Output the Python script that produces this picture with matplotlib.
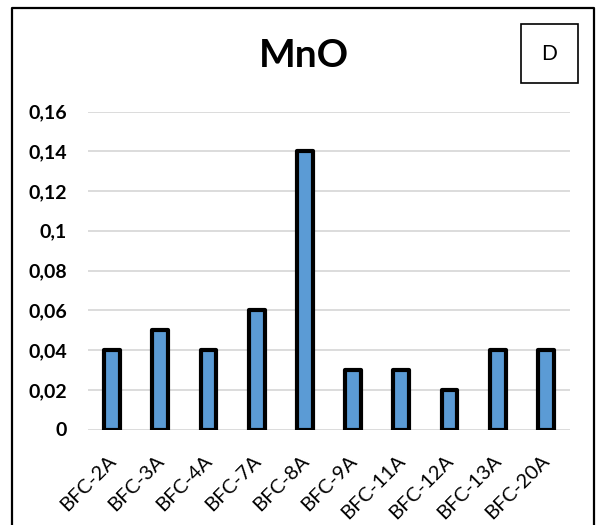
import matplotlib
matplotlib.use("Agg")
import matplotlib.pyplot as plt
from matplotlib.patches import Rectangle
from matplotlib.lines import Line2D
from matplotlib.transforms import ScaledTranslation

categories = ["BFC-2A", "BFC-3A", "BFC-4A", "BFC-7A", "BFC-8A",
              "BFC-9A", "BFC-11A", "BFC-12A", "BFC-13A", "BFC-20A"]
mno = [0.04, 0.05, 0.04, 0.06, 0.14, 0.03, 0.03, 0.02, 0.04, 0.04]
yticks = [0, 0.02, 0.04, 0.06, 0.08, 0.1, 0.12, 0.14, 0.16]
ytick_labels = ["0", "0,02", "0,04", "0,06", "0,08", "0,1", "0,12", "0,14", "0,16"]
title = "MnO"
panel_label = "D"

plt.rcParams['font.family'] = ['Lato', 'DejaVu Sans']

W, H = 600, 525
fig = plt.figure(figsize=(6, 5.25), dpi=100)
fig.patch.set_facecolor('white')

x0, x1 = 88, 570
ytop, ybot = 111.5, 429.5
ax = fig.add_axes([x0 / W, 1 - ybot / H, (x1 - x0) / W, (ybot - ytop) / H])

xs = list(range(len(categories)))
bars = ax.bar(xs, mno, width=0.33, color='#5B9BD5', edgecolor='black',
              linewidth=3.0, zorder=3)
for b in bars:
    b.set_joinstyle('round')

ax.set_xlim(-0.5, len(categories) - 0.5)
ax.set_ylim(0, 0.16)
ax.set_yticks(yticks)
ax.set_yticklabels(ytick_labels, fontweight='bold', fontsize=14)
ax.yaxis.grid(True, color='#D9D9D9', linewidth=1.3, zorder=0)
ax.set_axisbelow(True)
for s in ax.spines.values():
    s.set_visible(False)
ax.tick_params(axis='y', length=0, pad=15)
ax.tick_params(axis='x', length=0, pad=16)
ax.set_xticks(xs)
ax.set_xticklabels(categories, rotation=45, ha='right', va='top',
                   rotation_mode='anchor', fontsize=14.5)
off = ScaledTranslation(-5 / 100, 0, fig.dpi_scale_trans)
for lab in ax.get_xticklabels():
    lab.set_transform(lab.get_transform() + off)

# Title
fig.text(304 / W, 1 - 55.5 / H, title, ha='center', va='center',
         fontsize=28, fontweight='bold')

# Panel label box
fig.add_artist(Rectangle((521 / W, 1 - 83 / H), 57 / W, 59 / H,
                         transform=fig.transFigure, fill=False,
                         edgecolor='black', linewidth=1.2))
fig.text(549.5 / W, 1 - 53.5 / H, panel_label, ha='center', va='center',
         fontsize=15)

# Outer frame (left, top, right)
fig.add_artist(Line2D([11.5 / W, 11.5 / W, 593.5 / W, 593.5 / W],
                      [0, 1 - 7.5 / H, 1 - 7.5 / H, 0],
                      transform=fig.transFigure, color='black', linewidth=1.6))

fig.savefig("out.png", dpi=100)
